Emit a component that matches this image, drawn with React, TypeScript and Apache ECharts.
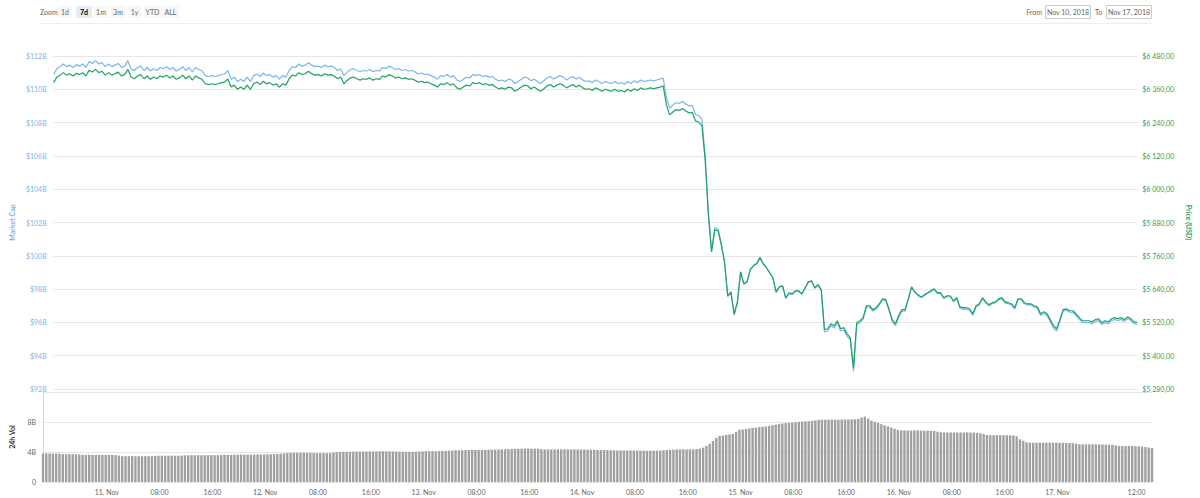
import React, { useEffect, useRef } from 'react';
import * as echarts from 'echarts';

// Sampling: every 30 minutes from Nov 10, 2018 14:20 UTC
const START = Date.UTC(2018, 10, 10, 14, 20);
const STEP = 30 * 60 * 1000;

// Price (USD)
const PRICE = [
  6384,6404,6411,6420,6411,6416,6408,6418,6413,6420,
  6408,6429,6422,6432,6420,6425,6411,6420,6411,6416,
  6422,6408,6413,6432,6404,6398,6408,6413,6398,6408,
  6396,6404,6398,6408,6404,6411,6401,6408,6396,6401,
  6411,6398,6408,6393,6408,6401,6396,6380,6377,6380,
  6377,6380,6384,6386,6397,6368,6375,6360,6368,6360,
  6375,6360,6380,6386,6377,6389,6380,6384,6375,6380,
  6368,6380,6375,6398,6411,6408,6420,6413,6416,6425,
  6416,6411,6413,6408,6416,6411,6413,6408,6398,6404,
  6380,6392,6401,6404,6398,6393,6398,
  6396,6401,6393,6398,6396,6408,6404,6413,6408,6401,
  6404,6398,6401,6396,6398,6393,6386,6389,6384,6386,
  6380,6375,6368,6380,6377,6384,6375,6380,6365,6360,
  6368,6375,6372,6384,6380,6384,6377,6380,6375,6377,
  6368,6362,6365,6360,6368,6365,6353,6360,6368,6375,
  6372,6362,6368,6360,6353,6362,6372,6377,6368,6375,
  6380,6375,6365,6372,6377,6368,6375,6365,6360,6362,
  6356,6365,6360,6353,6360,6356,6353,6360,6353,6356,
  6350,6360,6353,6362,6356,6365,6360,6362,6365,6362,6365,6368,
  6372,6304,6268,6278,6287,6284,6291,6282,6275,6277,
  6246,6242,6228,6106,5908,5774,5854,5850,5800,5738,
  5616,5630,5551,5594,5702,5659,5666,5710,5724,5731,
  5753,5731,5717,5699,
  5681,5630,5648,5652,5609,5627,5623,5634,5634,5623,
  5645,5666,5670,5645,5656,5638,5494,5497,5515,5508,
  5526,5497,5501,5479,5465,5357,5519,5526,5537,5580,5580,5566,
  5573,5587,5605,5602,5569,5530,5515,5544,5566,5566,
  5605,5648,5630,5620,5612,5620,5627,5634,5641,5627,
  5627,5609,5616,5616,5598,5609,5576,5573,5573,5569,
  5551,5580,5587,5609,5594,5584,5591,5594,5605,5609,
  5594,5591,5587,5573,5605,5605,5591,5587,5587,5580,
  5576,5551,5558,5551,5530,5508,5497,5530,5566,5569,
  5562,5562,5551,5537,5526,5526,5526,5522,5530,5533,
  5519,5526,5522,5533,5537,5533,5537,5530,5540,5533,5522,5519,
];

// Market cap (billion USD)
const MCAP = [
  110.89,111.24,111.36,111.52,111.36,111.45,111.31,111.48,111.39,111.52,
  111.31,111.67,111.55,111.72,111.52,111.60,111.36,111.52,111.36,111.45,
  111.55,111.31,111.39,111.72,111.24,111.13,111.31,111.39,111.13,111.31,
  111.10,111.24,111.13,111.31,111.24,111.36,111.19,111.31,111.10,111.19,
  111.36,111.13,111.31,111.05,111.31,111.19,111.10,110.82,110.77,110.82,
  110.77,110.82,110.89,110.92,111.12,110.61,110.73,110.47,110.61,110.47,
  110.73,110.47,110.82,110.92,110.77,110.98,110.82,110.89,110.73,110.82,
  110.61,110.82,110.73,111.13,111.36,111.31,111.52,111.39,111.45,111.60,
  111.45,111.36,111.39,111.31,111.45,111.36,111.39,111.31,111.13,111.24,
  110.82,111.03,111.19,111.24,111.13,111.05,111.13,
  111.10,111.19,111.05,111.13,111.10,111.31,111.24,111.39,111.31,111.19,
  111.24,111.13,111.19,111.10,111.13,111.05,110.92,110.98,110.89,110.92,
  110.82,110.73,110.61,110.82,110.77,110.89,110.73,110.82,110.56,110.47,
  110.61,110.73,110.68,110.89,110.82,110.89,110.77,110.82,110.73,110.77,
  110.61,110.51,110.56,110.47,110.61,110.56,110.35,110.47,110.61,110.73,
  110.68,110.51,110.61,110.47,110.35,110.51,110.68,110.77,110.61,110.73,
  110.82,110.73,110.56,110.68,110.77,110.61,110.73,110.56,110.47,110.51,
  110.40,110.56,110.47,110.35,110.47,110.40,110.35,110.47,110.35,110.40,
  110.30,110.47,110.35,110.51,110.40,110.56,110.47,110.51,110.56,110.51,110.56,110.61,
  110.68,109.50,108.88,109.05,109.21,109.15,109.27,109.12,109.00,109.03,
  108.49,108.42,108.18,106.06,102.62,100.29,101.68,101.61,100.75,99.67,
  97.55,97.79,96.42,97.17,99.04,98.30,98.42,99.18,99.43,99.55,
  99.93,99.55,99.30,98.99,
  98.68,97.79,98.11,98.18,97.43,97.74,97.67,97.86,97.86,97.67,
  98.05,98.42,98.49,98.05,98.25,97.93,95.43,95.48,95.80,95.67,
  95.99,95.48,95.55,95.17,94.93,93.05,95.87,95.99,96.18,96.92,96.92,96.68,
  96.80,97.05,97.36,97.31,96.73,96.06,95.80,96.30,96.68,96.68,
  97.36,98.11,97.79,97.62,97.48,97.62,97.74,97.86,97.98,97.74,
  97.74,97.43,97.55,97.55,97.24,97.43,96.86,96.80,96.80,96.73,
  96.42,96.92,97.05,97.43,97.17,96.99,97.12,97.17,97.36,97.43,
  97.17,97.12,97.05,96.80,97.36,97.36,97.12,97.05,97.05,96.92,
  96.86,96.42,96.54,96.42,96.06,95.67,95.48,96.06,96.68,96.73,
  96.61,96.61,96.42,96.18,95.99,95.99,95.99,95.92,96.06,96.11,
  95.87,95.99,95.92,96.11,96.18,96.11,96.18,96.06,96.23,96.11,95.92,95.87,
];

// 24h volume (billion USD)
const VOLUME = [
  3.80,3.82,3.80,3.78,3.80,3.78,3.72,3.70,3.70,3.72,
  3.70,3.68,3.62,3.62,3.63,3.62,3.60,3.62,3.62,3.61,
  3.62,3.60,3.58,3.52,3.45,3.44,3.45,3.46,3.44,3.43,
  3.44,3.45,3.44,3.45,3.48,3.50,3.50,3.49,3.50,3.51,
  3.50,3.50,3.52,3.55,3.56,3.58,3.58,3.57,3.58,3.58,
  3.58,3.59,3.58,3.58,3.60,3.62,3.62,3.63,3.64,3.66,
  3.66,3.66,3.65,3.66,3.66,3.67,3.66,3.66,3.68,3.70,
  3.72,3.75,3.78,3.82,3.86,3.88,3.90,3.88,3.89,3.90,
  3.88,3.88,3.86,3.84,3.86,3.85,3.84,3.86,3.92,3.98,
  4.02,4.03,4.04,4.02,4.05,4.06,4.05,4.06,4.07,4.08,
  4.06,4.07,4.08,4.10,4.09,4.08,4.07,4.05,4.04,4.02,
  4.02,4.03,4.02,4.04,4.06,4.08,4.10,4.10,4.11,4.10,
  4.12,4.14,4.16,4.18,4.20,4.22,4.22,4.24,4.26,4.27,
  4.28,4.28,4.29,4.28,4.30,4.30,4.32,4.32,4.33,4.35,
  4.36,4.38,4.40,4.42,4.43,4.44,4.45,4.45,4.44,4.44,
  4.43,4.36,4.35,4.34,4.35,4.34,4.35,4.36,4.35,4.34,
  4.34,4.35,4.34,4.33,4.32,4.31,4.30,4.29,4.28,4.27,
  4.26,4.25,4.24,4.23,4.22,4.21,4.20,4.20,4.21,4.20,
  4.19,4.18,4.17,4.16,4.17,4.16,4.18,4.20,4.23,4.26,
  4.30,4.32,4.34,4.34,4.35,4.34,4.35,4.36,4.40,4.45,
  4.57,4.80,5.10,5.47,5.90,6.15,6.20,6.28,6.35,6.40,
  6.70,6.96,7.00,7.08,7.15,7.20,7.25,7.32,7.36,7.41,
  7.48,7.56,7.64,7.72,7.80,7.86,7.90,7.94,7.98,8.02,
  8.04,8.08,8.10,8.15,8.22,8.28,8.31,8.30,8.32,8.33,
  8.31,8.30,8.32,8.34,8.33,8.35,8.36,8.40,8.60,8.72,
  8.45,8.18,8.00,7.86,7.70,7.55,7.41,7.25,7.10,6.96,
  6.88,6.87,6.86,6.87,6.88,6.87,6.86,6.85,6.84,6.82,
  6.80,6.70,6.62,6.60,6.60,6.61,6.60,6.59,6.60,6.60,
  6.60,6.59,6.58,6.55,6.50,6.40,6.26,6.24,6.24,6.25,
  6.24,6.24,6.23,6.22,6.20,6.10,5.69,5.50,5.30,5.24,
  5.24,5.25,5.24,5.24,5.23,5.24,5.24,5.23,5.22,5.22,
  5.21,5.20,5.18,5.12,5.04,5.02,5.02,5.01,5.02,5.02,
  5.00,5.00,4.99,4.98,4.96,4.88,4.82,4.79,4.79,4.80,
  4.79,4.78,4.76,4.72,4.66,4.60,4.52,
];

const X_LABEL_TIMES = [
  Date.UTC(2018, 10, 11, 0), Date.UTC(2018, 10, 11, 8), Date.UTC(2018, 10, 11, 16),
  Date.UTC(2018, 10, 12, 0), Date.UTC(2018, 10, 12, 8), Date.UTC(2018, 10, 12, 16),
  Date.UTC(2018, 10, 13, 0), Date.UTC(2018, 10, 13, 8), Date.UTC(2018, 10, 13, 16),
  Date.UTC(2018, 10, 14, 0), Date.UTC(2018, 10, 14, 8), Date.UTC(2018, 10, 14, 16),
  Date.UTC(2018, 10, 15, 0), Date.UTC(2018, 10, 15, 8), Date.UTC(2018, 10, 15, 16),
  Date.UTC(2018, 10, 16, 0), Date.UTC(2018, 10, 16, 8), Date.UTC(2018, 10, 16, 16),
  Date.UTC(2018, 10, 17, 0), Date.UTC(2018, 10, 17, 12),
];

const ZOOM_BUTTONS = ['1d', '7d', '1m', '3m', '1y', 'YTD', 'ALL'];
const SELECTED_ZOOM = '7d';
const FROM_DATE = 'Nov 10, 2018';
const TO_DATE = 'Nov 17, 2018';

const BLUE = '#7cb5ec';
const GREEN = '#1fa265';
const FONT = 'Lato, "DejaVu Sans", sans-serif';

function fmtPrice(v: number): string {
  const s = Math.round(v).toString();
  const th = s.length > 3 ? s.slice(0, s.length - 3) + ' ' + s.slice(s.length - 3) : s;
  return '$' + th + ',00';
}

function fmtTime(v: number): string {
  const d = new Date(v);
  const h = d.getUTCHours();
  if (h === 0) return d.getUTCDate() + '. Nov';
  return (h < 10 ? '0' : '') + h + ':00';
}

export default function App() {
  const ref = useRef<HTMLDivElement>(null);

  useEffect(() => {
    if (!ref.current) return;
    const chart = echarts.init(ref.current, undefined, { renderer: 'svg' });
    const times = PRICE.map((_, i) => START + i * STEP);
    const END = times[times.length - 1];

    const btnLayout = [
      { x: 58, w: 14 }, { x: 76, w: 16 }, { x: 94, w: 14 }, { x: 111, w: 14 },
      { x: 128, w: 13 }, { x: 144, w: 17 }, { x: 162, w: 17 },
    ];
    const graphics: any[] = [
      { type: 'text', x: 40, y: 12, style: { text: 'Zoom', fill: '#666', fontSize: 7, fontFamily: FONT, verticalAlign: 'middle' } },
      { type: 'line', shape: { x1: 40, y1: 23.5, x2: 1152, y2: 23.5 }, style: { stroke: '#eeeeee', lineWidth: 1 } },
      { type: 'text', x: 1042, y: 12, style: { text: 'From', fill: '#666', fontSize: 7, fontFamily: FONT, align: 'right', verticalAlign: 'middle' } },
      { type: 'rect', shape: { x: 1045.5, y: 5.5, width: 45, height: 13 }, style: { fill: '#fff', stroke: '#cccccc', lineWidth: 1 } },
      { type: 'text', x: 1068, y: 12, style: { text: FROM_DATE, fill: '#666', fontSize: 7, fontFamily: FONT, align: 'center', verticalAlign: 'middle' } },
      { type: 'text', x: 1095, y: 12, style: { text: 'To', fill: '#666', fontSize: 7, fontFamily: FONT, align: 'left', verticalAlign: 'middle' } },
      { type: 'rect', shape: { x: 1106.5, y: 5.5, width: 45, height: 13 }, style: { fill: '#fff', stroke: '#cccccc', lineWidth: 1 } },
      { type: 'text', x: 1129, y: 12, style: { text: TO_DATE, fill: '#666', fontSize: 7, fontFamily: FONT, align: 'center', verticalAlign: 'middle' } },
    ];
    ZOOM_BUTTONS.forEach((b, i) => {
      const sel = b === SELECTED_ZOOM;
      const L = btnLayout[i];
      graphics.push({ type: 'rect', shape: { x: L.x, y: 6, width: L.w, height: 12, r: 1 }, style: { fill: sel ? '#e6ebf5' : '#f7f7f7' } });
      graphics.push({ type: 'text', x: L.x + L.w / 2, y: 12, style: { text: b, fill: sel ? '#000' : '#666', fontWeight: sel ? 'bold' : 'normal', fontSize: 7, fontFamily: FONT, align: 'center', verticalAlign: 'middle' } });
    });

    chart.setOption({
      animation: false,
      backgroundColor: '#fff',
      textStyle: { fontFamily: FONT },
      graphic: graphics,
      grid: [
        { left: 40, right: 48, top: 56, height: 333 },
        { left: 40, right: 48, top: 392, height: 90 },
      ],
      xAxis: [
        { type: 'value', gridIndex: 0, min: START, max: END, show: false, splitLine: { show: false } },
        {
          type: 'value', gridIndex: 1, min: START, max: END,
          axisLine: { show: false }, axisTick: { show: false }, splitLine: { show: false },
          axisLabel: {
            customValues: X_LABEL_TIMES, formatter: fmtTime, color: '#666', fontSize: 7, margin: 6,
            hideOverlap: false,
          },
        },
      ],
      yAxis: [
        {
          type: 'value', gridIndex: 0, position: 'left', min: 92, max: 112, interval: 2,
          axisLine: { show: false }, axisTick: { show: false },
          splitLine: { lineStyle: { color: '#e6e6e6', width: 1 } },
          axisLabel: { formatter: (v: number) => '$' + v + 'B', color: BLUE, fontSize: 7, margin: 7, padding: [0, 0, 6, 0] },
          name: 'Market Cap', nameLocation: 'middle', nameGap: 33, nameRotate: 90,
          nameTextStyle: { color: BLUE, fontWeight: 'bold', fontSize: 7 },
        },
        {
          type: 'value', gridIndex: 0, position: 'right', min: 5280, max: 6480, interval: 120,
          axisLine: { show: false }, axisTick: { show: false }, splitLine: { show: false },
          axisLabel: { formatter: fmtPrice, color: GREEN, fontSize: 7, margin: 5, padding: [0, 0, 6, 0] },
          name: 'Price (USD)', nameLocation: 'middle', nameGap: 42, nameRotate: -90,
          nameTextStyle: { color: GREEN, fontWeight: 'bold', fontSize: 7 },
        },
        {
          type: 'value', gridIndex: 1, min: 0, max: 12, interval: 4,
          axisLine: { show: true, lineStyle: { color: '#ccd6eb' } }, axisTick: { show: false },
          splitLine: { lineStyle: { color: '#e6e6e6', width: 1 } },
          axisLabel: {
            formatter: (v: number) => (v === 0 ? '0' : v === 12 ? '' : v + 'B'),
            color: '#666', fontSize: 7, margin: 7, padding: [0, 0, 6, 0],
          },
          name: '24h Vol', nameLocation: 'middle', nameGap: 28, nameRotate: 90,
          nameTextStyle: { color: '#333', fontWeight: 'bold', fontSize: 7 },
        },
      ],
      series: [
        {
          name: 'Market Cap', type: 'line', xAxisIndex: 0, yAxisIndex: 0,
          data: MCAP.map((v, i) => [times[i], v]), showSymbol: false,
          lineStyle: { color: BLUE, width: 1.2 }, itemStyle: { color: BLUE },
        },
        {
          name: 'Price (USD)', type: 'line', xAxisIndex: 0, yAxisIndex: 1,
          data: PRICE.map((v, i) => [times[i], v]), showSymbol: false,
          lineStyle: { color: GREEN, width: 1.2 }, itemStyle: { color: GREEN },
        },
        {
          name: '24h Vol', type: 'bar', xAxisIndex: 1, yAxisIndex: 2,
          data: VOLUME.map((v, i) => [times[i], v]), barWidth: 2.4,
          itemStyle: { color: '#a0a0a0' },
        },
      ],
    });
    return () => chart.dispose();
  }, []);

  return <div ref={ref} style={{ position: 'fixed', left: 0, top: 0, width: 1200, height: 498, background: '#fff' }} />;
}
